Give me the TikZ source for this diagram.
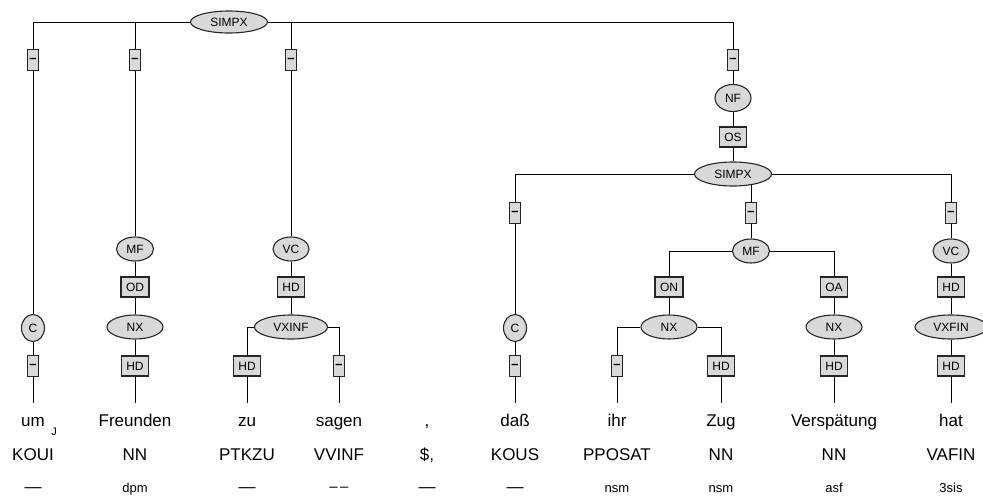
\documentclass[tikz,border=0pt]{standalone}
\usepackage{fontspec}
\setmainfont{Liberation Sans}
\usetikzlibrary{shapes.geometric,backgrounds}
\tikzset{
	fld/.style={ellipse, draw=black!85, fill=black!15, line width=1.1pt, inner sep=0pt, minimum height=24pt, font=\fontsize{12pt}{12pt}\selectfont},
	lbl/.style={rectangle, draw=black!85, fill=black!15, line width=1.1pt, inner xsep=5pt, inner ysep=0pt, minimum height=20pt, font=\fontsize{12pt}{12pt}\selectfont},
	nolbl/.style={lbl, inner xsep=0.5pt, minimum width=11pt, minimum height=21pt, font=\bfseries\fontsize{13pt}{13pt}\selectfont},
	tokword/.style={anchor=base, inner ysep=10pt, text height=13pt, text depth=4pt, font=\fontsize{17pt}{17pt}\selectfont},
	tokpos/.style={anchor=base, font=\fontsize{17pt}{17pt}\selectfont},
	tokmorph/.style={anchor=base, font=\fontsize{13pt}{13pt}\selectfont},
	conn/.style={line width=1.1pt, draw=black!90}
}
\newcommand{\nomorph}{{\fontsize{17pt}{17pt}\selectfont\textemdash}}
\newcommand{\dashmorph}{{\fontsize{15pt}{15pt}\selectfont\raisebox{0.5pt}{\textendash\kern2.5pt\textendash}}}
\begin{document}
\begin{tikzpicture}[x=1pt, y=-1pt]
	\useasboundingbox (0,0) rectangle (983,498);
	% upper clause
	\node[fld, minimum width=77pt, minimum height=22pt] (simpx) at (229,22) {SIMPX};
	\node[nolbl] (l1) at (33,60) {\textendash};
	\node[nolbl] (l2) at (135,60) {\textendash};
	\node[nolbl] (l3) at (291,60) {\textendash};
	\node[nolbl] (l4) at (733,60) {\textendash};
	\node[fld, minimum width=23pt, minimum height=27pt] (c1) at (33,328) {C};
	\node[nolbl] (l5) at (33,366) {\textendash};
	\node[fld, minimum width=37pt] (mf1) at (135,249) {MF};
	\node[lbl] (od) at (135,287) {OD};
	\node[fld, minimum width=56pt] (nx1) at (135,327) {NX};
	\node[lbl] (hd1) at (135,366) {HD};
	\node[fld, minimum width=36pt] (vc1) at (291,249) {VC};
	\node[lbl] (hd2) at (291,287) {HD};
	\node[fld, minimum width=73pt] (vxinf) at (291,327) {VXINF};
	\node[lbl] (hd3) at (247,366) {HD};
	\node[nolbl] (l6) at (339,366) {\textendash};
	% embedded clause
	\node[fld, minimum width=36pt, minimum height=27pt] (nf) at (733,98) {NF};
	\node[lbl] (os) at (733,137) {OS};
	\node[fld, minimum width=77pt] (simpx2) at (733,174) {SIMPX};
	\node[nolbl] (l7) at (515,213) {\textendash};
	\node[nolbl] (l8) at (751,213) {\textendash};
	\node[nolbl] (l9) at (951,213) {\textendash};
	\node[fld, minimum width=23pt, minimum height=27pt] (c2) at (515,328) {C};
	\node[nolbl] (l10) at (515,366) {\textendash};
	\node[fld, minimum width=37pt] (mf2) at (751,251) {MF};
	\node[lbl] (on) at (669,287) {ON};
	\node[lbl] (oa) at (834,287) {OA};
	\node[fld, minimum width=56pt] (nx2) at (669,327) {NX};
	\node[fld, minimum width=56pt] (nx3) at (834,327) {NX};
	\node[nolbl] (l11) at (617,366) {\textendash};
	\node[lbl] (hd4) at (721,366) {HD};
	\node[lbl] (hd5) at (834,366) {HD};
	\node[fld, minimum width=36pt] (vc2) at (951,251) {VC};
	\node[lbl] (hd6) at (951,287) {HD};
	\node[fld, minimum width=72pt] (vxfin) at (951,327) {VXFIN};
	\node[lbl] (hd7) at (951,366) {HD};
	% tokens
	\foreach \x/\w/\p/\m [count=\i] in {33/um/KOUI/\nomorph, 135/Freunden/NN/dpm, 247/zu/PTKZU/\nomorph,
		339/sagen/VVINF/\dashmorph, 427/{,}/{\$,}/\nomorph, 515/daß/KOUS/\nomorph, 617/ihr/PPOSAT/nsm,
		721/Zug/NN/nsm, 834/Verspätung/NN/asf, 951/hat/VAFIN/3sis} {
		\node[tokword] (w\i) at (\x,426) {\w};
		\node[tokpos] (p\i) at (\x,460) {\p};
		\node[tokmorph] (m\i) at (\x,492) {\m};
	}
	\node[font=\fontsize{11pt}{11pt}\selectfont] (jmark) at (54,432) {J};
	% connectors
	\begin{scope}[on background layer, conn]
		\draw (simpx) -| (l1) -- (c1) -- (l5) -- (w1);
		\draw (simpx) -| (l2) -- (mf1) -- (od) -- (nx1) -- (hd1) -- (w2);
		\draw (simpx) -| (l3) -- (vc1) -- (hd2) -- (vxinf);
		\draw (vxinf) -| (hd3) -- (w3);
		\draw (vxinf) -| (l6) -- (w4);
		\draw (simpx) -| (l4) -- (nf) -- (os) -- (simpx2);
		\draw (simpx2) -| (l7) -- (c2) -- (l10) -- (w6);
		\draw (simpx2.center -| l8) -- (l8) -- (mf2);
		\draw (simpx2) -| (l9) -- (vc2) -- (hd6) -- (vxfin) -- (hd7) -- (w10);
		\draw (mf2) -| (on) -- (nx2);
		\draw (mf2) -| (oa) -- (nx3) -- (hd5) -- (w9);
		\draw (nx2) -| (l11) -- (w7);
		\draw (nx2) -| (hd4) -- (w8);
	\end{scope}
\end{tikzpicture}
\end{document}
